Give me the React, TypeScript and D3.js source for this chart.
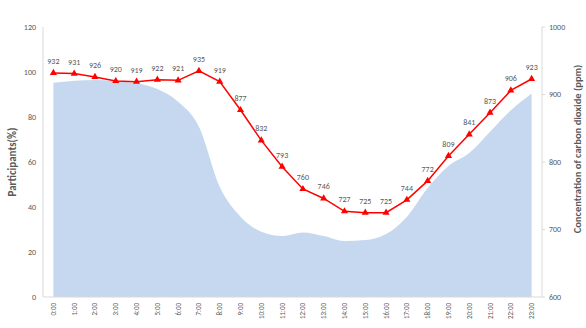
import { useEffect, useRef } from "react";
import * as d3 from "d3";

const hours = [
  "0:00", "1:00", "2:00", "3:00", "4:00", "5:00", "6:00", "7:00", "8:00", "9:00", "10:00", "11:00",
  "12:00", "13:00", "14:00", "15:00", "16:00", "17:00", "18:00", "19:00", "20:00", "21:00", "22:00", "23:00",
];
// participants (%) – area
const participants = [95.2, 96.1, 96.4, 95.9, 95, 92.4, 86.8, 75.7, 49, 35.7, 29, 27.1,
  28.7, 27.1, 24.9, 25.3, 28, 35.6, 48.4, 58.2, 64, 73.5, 83, 90.5];
// CO2 (ppm) – line
const co2 = [932, 931, 926, 920, 919, 922, 921, 935, 919, 877, 832, 793,
  760, 746, 727, 725, 725, 744, 772, 809, 841, 873, 906, 923];
const leftTicks = [0, 20, 40, 60, 80, 100, 120];
const rightTicks = [600, 700, 800, 900, 1000];

const App = () => {
  const svgRef = useRef<SVGSVGElement>(null);

  useEffect(() => {
    const W = 586, H = 328;
    const M = { top: 27, right: 44, bottom: 31, left: 43 };
    const svg = d3.select(svgRef.current).attr("width", W).attr("height", H);
    svg.selectAll("*").remove();

    const x = d3.scaleBand<string>().domain(hours).range([M.left, W - M.right]);
    const yL = d3.scaleLinear().domain([0, 120]).range([H - M.bottom, M.top]);
    const yR = d3.scaleLinear().domain([600, 1000]).range([H - M.bottom, M.top]);
    const cx = (i: number) => (x(hours[i]) as number) + x.bandwidth() / 2;

    const g = svg.append("g").style("font-family", "Calibri, Carlito, 'Liberation Sans', Arial, sans-serif");

    // area
    const area = d3.area<number>()
      .x((_, i) => cx(i))
      .y0(yL(0))
      .y1((d) => yL(d))
      .curve(d3.curveMonotoneX);
    g.append("path").datum(participants).attr("d", area).attr("fill", "#c6d8ef");

    // axes
    const axisColor = "#d9d9d9";
    g.append("line").attr("x1", M.left).attr("x2", W - M.right)
      .attr("y1", yL(0)).attr("y2", yL(0)).attr("stroke", axisColor);
    g.append("line").attr("x1", M.left).attr("x2", M.left)
      .attr("y1", yL(0)).attr("y2", yL(120)).attr("stroke", axisColor);
    g.append("line").attr("x1", W - M.right).attr("x2", W - M.right)
      .attr("y1", yR(600)).attr("y2", yR(1000)).attr("stroke", axisColor);

    g.selectAll(".lt").data(leftTicks).enter().append("text")
      .attr("x", M.left - 7).attr("y", (d) => yL(d)).attr("dy", "0.35em")
      .attr("text-anchor", "end").attr("font-size", 8).attr("fill", "#595959")
      .text((d) => d);

    g.selectAll(".rtm").data(rightTicks).enter().append("line")
      .attr("x1", W - M.right).attr("x2", W - M.right + 3)
      .attr("y1", (d) => yR(d)).attr("y2", (d) => yR(d)).attr("stroke", axisColor);
    g.selectAll(".rt").data(rightTicks).enter().append("text")
      .attr("x", W - M.right + 7).attr("y", (d) => yR(d)).attr("dy", "0.35em")
      .attr("font-size", 8).attr("fill", "#595959")
      .text((d) => d);

    g.selectAll(".xt").data(hours).enter().append("text")
      .attr("transform", (d) => `translate(${(x(d) as number) + x.bandwidth() / 2 + 2.5},${yL(0) + 6}) rotate(-90)`)
      .attr("text-anchor", "end").attr("font-size", 7).attr("fill", "#595959")
      .text((d) => d);

    // titles
    g.append("text")
      .attr("transform", `translate(16,${(yL(0) + yL(120)) / 2}) rotate(-90)`)
      .attr("text-anchor", "middle").attr("font-size", 11).attr("font-weight", "bold")
      .attr("fill", "#595959").text("Participants(%)");
    g.append("text")
      .attr("transform", `translate(581,149) rotate(-90)`)
      .attr("text-anchor", "middle").attr("font-size", 10.5).attr("font-weight", "bold")
      .attr("fill", "#595959").text("Concentration of carbon dioxide (ppm)");

    // line
    const line = d3.line<number>().x((_, i) => cx(i)).y((d) => yR(d));
    g.append("path").datum(co2).attr("d", line)
      .attr("fill", "none").attr("stroke", "#ff0000").attr("stroke-width", 1.5);

    const tri = d3.symbol().type(d3.symbolTriangle).size(22);
    g.selectAll(".mk").data(co2).enter().append("path")
      .attr("d", tri)
      .attr("transform", (d, i) => `translate(${cx(i)},${yR(d)})`)
      .attr("fill", "#ff0000");

    g.selectAll(".lb").data(co2).enter().append("text")
      .attr("x", (_, i) => cx(i)).attr("y", (d) => yR(d) - 9)
      .attr("text-anchor", "middle").attr("font-size", 8).attr("fill", "#595959")
      .text((d) => d);
  }, []);

  return <svg ref={svgRef} style={{ position: "absolute", left: 0, top: 0 }} />;
};

export default App;
